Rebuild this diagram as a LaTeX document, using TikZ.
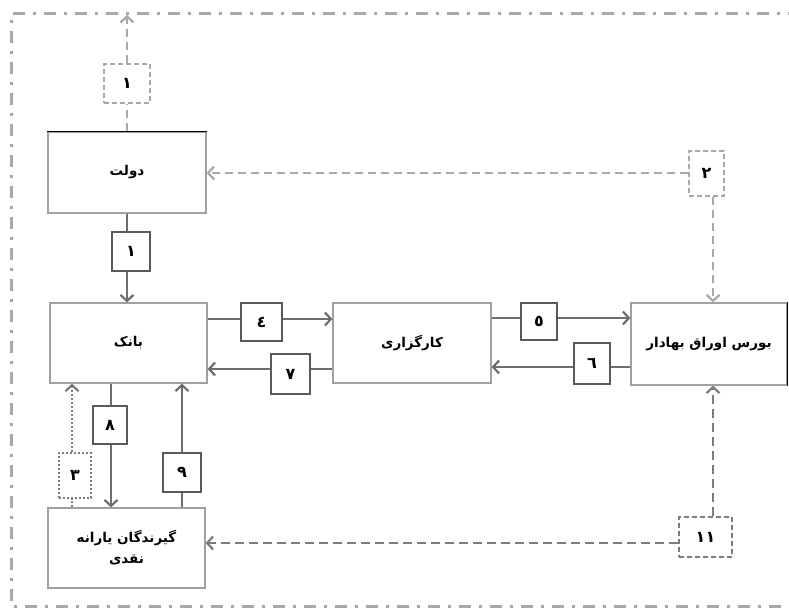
\documentclass[tikz,border=0pt]{standalone}
\usepackage{fontspec}
\newfontfamily\arabicfont[Script=Arabic]{DejaVu Sans}
\TeXXeTstate=1
\usetikzlibrary{arrows.meta}
\definecolor{boxline}{HTML}{A0A0A0}
\definecolor{solidline}{HTML}{6E6E6E}
\definecolor{numline}{HTML}{5A5A5A}
\definecolor{lightdash}{HTML}{A8A8A8}
\definecolor{darkdash}{HTML}{7C7C7C}
\tikzset{
  mainbox/.style={draw=boxline, line width=1.2pt, fill=white, minimum width=157pt, minimum height=80pt, inner sep=0pt, font=\arabicfont\bfseries\fontsize{13.5}{19}\selectfont, align=center},
  numbox/.style={draw=numline, line width=2.6pt, fill=white, inner sep=0pt, font=\arabicfont\bfseries\fontsize{16}{17}\selectfont},
  dnumbox/.style={numbox, draw=lightdash, line width=2.4pt, dash pattern=on 5pt off 3pt},
  d11box/.style={numbox, draw=darkdash, line width=2.4pt, dash pattern=on 5pt off 3pt},
  dotbox/.style={numbox, draw=darkdash, line width=2pt, dash pattern=on 2pt off 2pt},
  tip/.style={-{Straight Barb[length=6pt,width=13pt,line width=2.2pt]}},
  arr/.style={draw=solidline, line width=2.6pt, tip},
  seg/.style={draw=solidline, line width=2.6pt},
  darr/.style={draw=lightdash, line width=2.8pt, dash pattern=on 8pt off 5pt, tip},
  dseg/.style={draw=lightdash, line width=2.8pt, dash pattern=on 8pt off 5pt},
  darr2/.style={draw=darkdash, line width=2.8pt, dash pattern=on 9pt off 5pt, tip},
  dseg2/.style={draw=darkdash, line width=2.8pt, dash pattern=on 9pt off 5pt},
  dotarr/.style={draw=darkdash, line width=2pt, dash pattern=on 2pt off 2pt, tip},
  dotseg/.style={draw=darkdash, line width=2pt, dash pattern=on 2pt off 2pt},
  frame/.style={draw=lightdash, line width=3pt, dash pattern=on 12pt off 8pt on 3pt off 8pt}
}
\begin{document}
\begin{tikzpicture}[x=1pt,y=-1pt]
\useasboundingbox (0,0) rectangle (789,609);
\fill[white] (0,0) rectangle (789,609);
% outer frame
\coordinate (fTR) at (800,14);
\coordinate (fTL) at (11,14);
\coordinate (fBL) at (11,606);
\coordinate (fBR) at (800,606);
\draw[frame] (fTR) -- (fTL) -- (fBL) -- (fBR);

% main boxes
\node[mainbox, minimum width=158pt, minimum height=81pt] (dolat) at (127,172.5) {\beginR دولت\endR};
\draw[black, line width=1.2pt] (dolat.north west) -- (dolat.north east);
\node[mainbox] (bank) at (128.5,343) {\beginR بانک\endR};
\node[mainbox, minimum width=158pt] (karg) at (412,343) {\beginR کارگزاری\endR};
\node[mainbox, minimum width=156pt, minimum height=82pt] (burs) at (709,344) {\beginR بورس اوراق بهادار\endR};
\draw[black, line width=1.2pt] (burs.north east) -- (burs.south east);
\node[mainbox] (girand) at (126.5,548) {\beginR گیرندگان یارانه\endR\\[2pt]\beginR نقدی\endR};

% number boxes
\node[dnumbox, minimum width=46pt, minimum height=39pt] (d1) at (127,83.5) {\beginR ١\endR};
\node[numbox, minimum width=38pt, minimum height=39pt] (n1) at (131,251.5) {\beginR ١\endR};
\node[dnumbox, minimum width=35pt, minimum height=45pt] (d2) at (706.5,173.5) {\beginR ٢\endR};
\node[numbox, minimum width=41pt, minimum height=38pt] (n4) at (261.5,322) {\beginR ٤\endR};
\node[numbox, minimum width=39pt, minimum height=40pt] (n7) at (290.5,374) {\beginR ٧\endR};
\node[numbox, minimum width=36pt, minimum height=37pt] (n5) at (539,321.5) {\beginR ٥\endR};
\node[numbox, minimum width=36pt, minimum height=41pt] (n6) at (592,363.5) {\beginR ٦\endR};
\node[numbox, minimum width=34pt, minimum height=38pt] (n8) at (110,425) {\beginR ٨\endR};
\node[numbox, minimum width=38pt, minimum height=39pt] (n9) at (182,472.5) {\beginR ٩\endR};
\node[dotbox, minimum width=32pt, minimum height=45pt] (d3) at (75,475.5) {\beginR ٣\endR};
\node[d11box, minimum width=53pt, minimum height=40pt] (d11) at (705.5,537) {\beginR ١١\endR};

% connectors
\coordinate (top1) at (127,15);
\draw[dseg] (dolat.north) -- (d1.south);
\draw[darr] (d1.north) -- (top1);
\draw[seg] (dolat.south) -- (dolat.south |- n1.north);
\draw[arr] (dolat.south |- n1.south) -- (bank.north -| dolat.south);
\draw[darr] (d2.west |- 0,173) -- (dolat.east |- 0,173);
\draw[darr] (713,197) -- (burs.north -| 713,0);
\draw[seg] (bank.east |- 0,319) -- (n4.west |- 0,319);
\draw[arr] (n4.east |- 0,319) -- (karg.west |- 0,319);
\draw[seg] (karg.west |- 0,369) -- (n7.east |- 0,369);
\draw[arr] (n7.west |- 0,369) -- (bank.east |- 0,369);
\draw[seg] (karg.east |- 0,318) -- (n5.west |- 0,318);
\draw[arr] (n5.east |- 0,318) -- (burs.west |- 0,318);
\draw[seg] (burs.west |- 0,367) -- (n6.east |- 0,367);
\draw[arr] (n6.west |- 0,367) -- (karg.east |- 0,367);
\draw[seg] (bank.south -| 111,0) -- (n8.north -| 111,0);
\draw[arr] (n8.south -| 111,0) -- (girand.north -| 111,0);
\draw[seg] (girand.north -| 182,0) -- (n9.south);
\draw[arr] (n9.north) -- (bank.south -| 182,0);
\draw[dotseg] (girand.north -| 72,0) -- (d3.south -| 72,0);
\draw[dotarr] (d3.north -| 72,0) -- (bank.south -| 72,0);
\draw[darr2] (d11.west |- 0,543) -- (girand.east |- 0,543);
\draw[darr2] (d11.north -| 713,0) -- (burs.south -| 713,0);
\end{tikzpicture}
\end{document}
